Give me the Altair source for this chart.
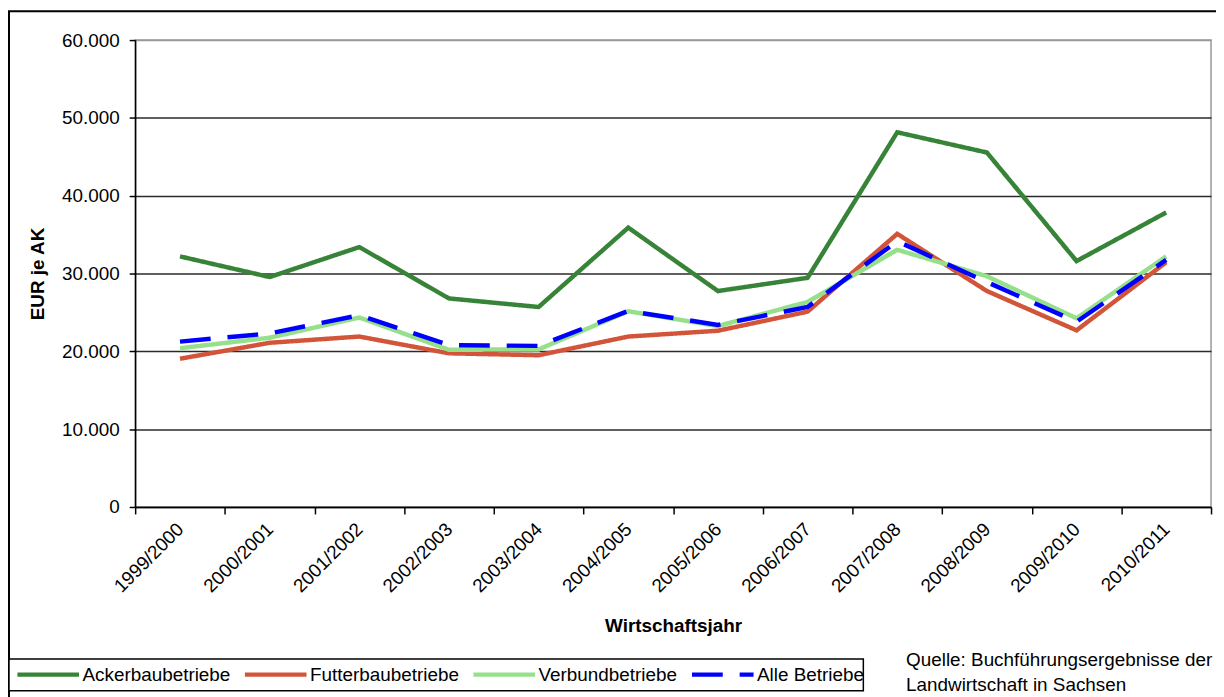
import altair as alt
import pandas as pd

years = ["1999/2000", "2000/2001", "2001/2002", "2002/2003", "2003/2004", "2004/2005",
         "2005/2006", "2006/2007", "2007/2008", "2008/2009", "2009/2010", "2010/2011"]
ackerbau = [32200, 29550, 33400, 26800, 25700, 35900, 27750, 29450, 48150, 45550, 31600, 37850]
futterbau = [19050, 21100, 21900, 19750, 19500, 21900, 22650, 25100, 35100, 27750, 22700, 31450]
verbund = [20400, 21750, 24350, 20200, 20250, 25150, 23250, 26350, 33050, 29650, 24250, 32200]
alle = [21250, 22300, 24650, 20800, 20700, 25200, 23400, 25700, 34150, 28900, 23800, 31750]
series = ["Ackerbaubetriebe", "Futterbaubetriebe", "Verbundbetriebe", "Alle Betriebe"]
colors = ["#378337", "#D2553A", "#96E08C", "#0000FF"]
dashes = [[1, 0], [1, 0], [1, 0], [31, 17]]
y_ticks = [0, 10000, 20000, 30000, 40000, 50000, 60000]
source_text = "Quelle: Buchführungsergebnisse der\nLandwirtschaft in Sachsen"

rows = []
for name, vals in zip(series, [ackerbau, futterbau, verbund, alle]):
    for yr, v in zip(years, vals):
        rows.append({"Jahr": yr, "Wert": v, "Serie": name})
df = pd.DataFrame(rows)

FONT = "Liberation Sans, Arial, sans-serif"
W, H = 1083, 470

leg = alt.Legend(
    title=None, orient="none", legendX=-121, legendY=605, direction="horizontal",
    columns=4, symbolType="stroke", symbolSize=3844, symbolStrokeWidth=4.5,
    labelFont=FONT, labelFontSize=19, labelColor="black", labelOffset=1,
    columnPadding=5, padding=0, labelLimit=0,
)

lines = alt.Chart(df).mark_line(strokeWidth=4.5).encode(
    x=alt.X(
        "Jahr:N", sort=years, bandPosition=0.5,
        scale=alt.Scale(type="band", paddingInner=0, paddingOuter=0),
        axis=alt.Axis(
            title="Wirtschaftsjahr", titleFont=FONT, titleFontSize=19, titleFontWeight="bold",
            titleColor="black", titleY=125, titleBaseline="alphabetic",
            labelAngle=-45, labelAlign="right", labelBaseline="middle",
            labelFont=FONT, labelFontSize=19, labelColor="black", labelPadding=12,
            labelOverlap=False, labelFlush=False,
            tickBand="extent", tickSize=7, tickColor="black", tickWidth=1.5,
            domainColor="black", domainWidth=1.5, grid=False,
        ),
    ),
    y=alt.Y(
        "Wert:Q", scale=alt.Scale(domain=[0, 60000], nice=False),
        axis=alt.Axis(
            title="EUR je AK", titleFont=FONT, titleFontSize=19, titleFontWeight="bold",
            titleColor="black", titleX=-92, titleY=235, titleBaseline="alphabetic",
            titleAlign="center", titleAngle=270,
            values=y_ticks, labelExpr="replace(format(datum.value, ','), ',', '.')",
            labelFont=FONT, labelFontSize=19, labelColor="black", labelPadding=10,
            tickSize=6, tickColor="black", tickWidth=1.5,
            domainColor="black", domainWidth=1.5,
            grid=True, gridWidth=1.5,
            gridColor={"condition": {"test": "datum.value >= 60000", "value": "#999999"},
                       "value": "#2a2a2a"},
        ),
    ),
    color=alt.Color("Serie:N", sort=series,
                    scale=alt.Scale(domain=series, range=colors), legend=leg),
    strokeDash=alt.StrokeDash("Serie:N", sort=series,
                              scale=alt.Scale(domain=series, range=dashes), legend=leg),
)

one = pd.DataFrame({"a": [0]})
frame = alt.Chart(one).mark_rect(fill="transparent", stroke="black", strokeWidth=2).encode(
    x=alt.value(-127), x2=alt.value(W + 60), y=alt.value(-29), y2=alt.value(H + 260)
)
legend_box = alt.Chart(one).mark_rect(fill="white", stroke="black", strokeWidth=1.5).encode(
    x=alt.value(-127), x2=alt.value(733), y=alt.value(623), y2=alt.value(655)
)
source = alt.Chart(one).mark_text(
    align="left", baseline="alphabetic", font=FONT, fontSize=19, color="black",
    lineBreak="\n", lineHeight=25, text=source_text,
).encode(x=alt.value(776), y=alt.value(630))

chart = alt.layer(frame, legend_box, lines, source).properties(
    width=W, height=H,
    autosize=alt.AutoSizeParams(type="none"),
    padding={"left": 128, "top": 30, "right": 5, "bottom": 190},
    background="white",
).configure_view(stroke="#999999", strokeWidth=1.5)

chart.save("out.html", embed_options={"renderer": "svg", "actions": False})
